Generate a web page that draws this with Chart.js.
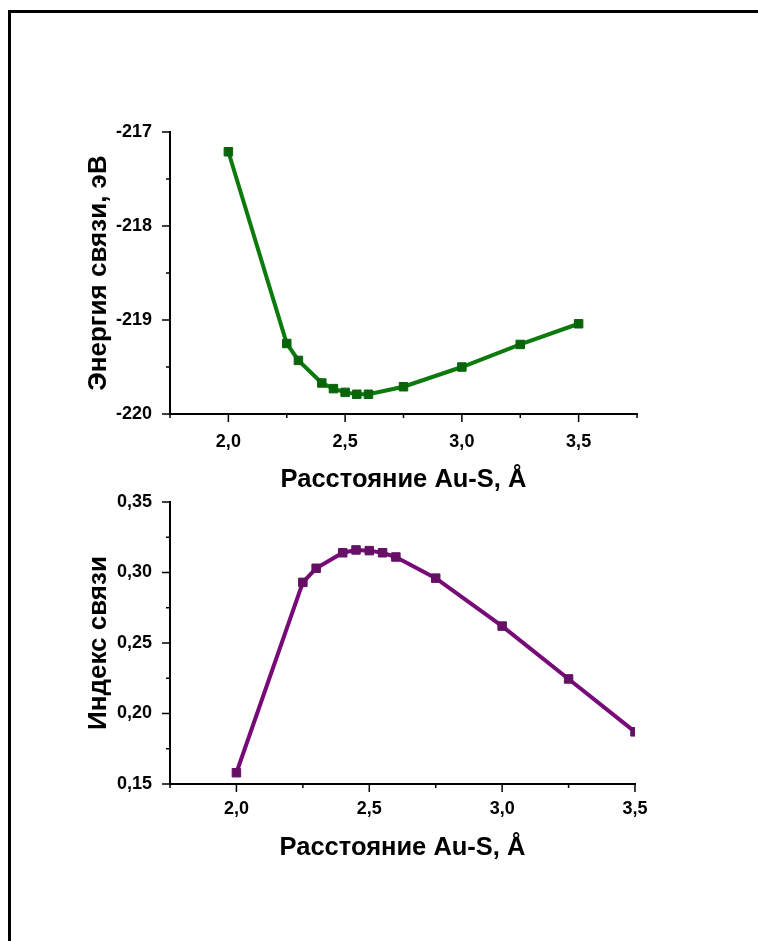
<!DOCTYPE html>
<html>
<head>
<meta charset="utf-8">
<script src="https://cdn.jsdelivr.net/npm/chart.js@4.4.0/dist/chart.umd.min.js"></script>
<style>
  html, body { margin: 0; padding: 0; background: #fff; }
  body { width: 758px; height: 941px; position: relative; overflow: hidden; }
  .frame { position: absolute; left: 8px; top: 10px; right: -10px; bottom: -10px;
           border-top: 3px solid #000; border-left: 3px solid #000; }
  .box { position: absolute; left: 0; }
</style>
</head>
<body>
<div class="frame"></div>
<div class="box" style="top:100px"><canvas id="energyChart" width="660" height="400"></canvas></div>
<div class="box" style="top:470px"><canvas id="indexChart" width="660" height="400"></canvas></div>
<script>
// Au-S distance, Å
const distances = [2.0, 2.25, 2.3, 2.4, 2.45, 2.5, 2.55, 2.6, 2.75, 3.0, 3.25, 3.5];
// Binding energy, eV
const bindingEnergy = [-217.21, -219.25, -219.43, -219.67, -219.73, -219.77, -219.79, -219.79, -219.71, -219.50, -219.26, -219.04];
// Bond index
const bondIndex = [0.158, 0.293, 0.303, 0.314, 0.316, 0.3155, 0.314, 0.311, 0.296, 0.262, 0.2245, 0.187];

const xTitle = 'Расстояние Au-S, Å';
const energyTitle = 'Энергия связи, эВ';
const indexTitle = 'Индекс связи';

const FONT = "'Liberation Sans', Arial, sans-serif";

// draw outward tick marks: long for labelled ticks, short for the rest
const tickMarks = {
    id: 'tickMarks',
    afterDraw(chart) {
        const ctx = chart.ctx;
        ctx.save();
        ctx.strokeStyle = '#000';
        ctx.lineWidth = 1.5;
        Object.values(chart.scales).forEach(scale => {
            scale.ticks.forEach((t, i) => {
                const label = scale.options.ticks.callback.call(scale, t.value, i, scale.ticks);
                const len = label ? 8 : 4;
                const p = scale.getPixelForValue(t.value);
                ctx.beginPath();
                if (scale.isHorizontal()) {
                    ctx.moveTo(p, scale.top);
                    ctx.lineTo(p, scale.top + len);
                } else {
                    ctx.moveTo(scale.right, p);
                    ctx.lineTo(scale.right - len, p);
                }
                ctx.stroke();
            });
        });
        ctx.restore();
    }
};

function commaFixed(v, d) {
    return v.toFixed(d).replace('.', ',');
}

function makeChart(id, values, opts) {
    const ctx = document.getElementById(id).getContext('2d');
    return new Chart(ctx, {
        type: 'scatter',
        data: {
            datasets: [{
                data: distances.map((d, i) => ({ x: d, y: values[i] })),
                showLine: true,
                borderColor: opts.lineColor,
                borderWidth: 4,
                pointStyle: 'rect',
                pointRadius: 6,
                pointBackgroundColor: opts.markerColor,
                pointBorderColor: opts.markerColor,
                pointBorderWidth: 1
            }]
        },
        options: {
            responsive: false,
            animation: false,
            devicePixelRatio: 1,
            layout: { padding: { top: 32, right: opts.padRight, bottom: 0, left: 0 } },
            plugins: { legend: { display: false }, tooltip: { enabled: false } },
            scales: {
                x: {
                    type: 'linear',
                    min: 1.75,
                    max: opts.xMax,
                    afterFit: s => { s.height = 86; },
                    border: { display: true, color: '#000', width: 2 },
                    grid: { display: false, tickLength: 8 },
                    ticks: {
                        stepSize: 0.25,
                        autoSkip: false,
                        maxRotation: 0,
                        padding: opts.xLabelPad,
                        color: '#000',
                        font: { family: FONT, size: 18, weight: 'bold' },
                        callback: v => (Math.abs(v * 2 - Math.round(v * 2)) < 1e-6 && v > 1.8) ? commaFixed(v, 1) : ''
                    },
                    title: {
                        display: true,
                        text: xTitle,
                        color: '#000',
                        font: { family: FONT, size: 25.5, weight: 'bold' },
                        padding: { top: 0, bottom: opts.xTitlePad }
                    }
                },
                y: {
                    min: opts.yMin,
                    max: opts.yMax,
                    afterFit: s => { s.width = 170; },
                    border: { display: true, color: '#000', width: 2 },
                    grid: { display: false, tickLength: 8 },
                    ticks: {
                        stepSize: opts.yStep,
                        autoSkip: false,
                        padding: 10,
                        color: '#000',
                        font: { family: FONT, size: 18, weight: 'bold' },
                        callback: opts.yLabel
                    },
                    title: {
                        display: true,
                        text: opts.yTitle,
                        color: '#000',
                        font: { family: FONT, size: 26, weight: 'bold' },
                        padding: { top: 83, bottom: 0 }
                    }
                }
            }
        },
        plugins: [tickMarks]
    });
}

makeChart('energyChart', bindingEnergy, {
    lineColor: '#0c7a0c',
    markerColor: '#0a650a',
    padRight: 23,
    xMax: 3.75,
    xLabelPad: 9,
    xTitlePad: 5,
    yMin: -220,
    yMax: -217,
    yStep: 0.5,
    yTitle: energyTitle,
    yLabel: v => Math.abs(v - Math.round(v)) < 1e-6 ? String(Math.round(v)) : ''
});

makeChart('indexChart', bondIndex, {
    lineColor: '#780a78',
    markerColor: '#650f65',
    padRight: 25,
    xMax: 3.5,
    xLabelPad: 6,
    xTitlePad: 7,
    yMin: 0.15,
    yMax: 0.35,
    yStep: 0.025,
    yTitle: indexTitle,
    yLabel: v => Math.abs(v * 20 - Math.round(v * 20)) < 1e-6 ? commaFixed(v, 2) : ''
});
</script>
</body>
</html>
